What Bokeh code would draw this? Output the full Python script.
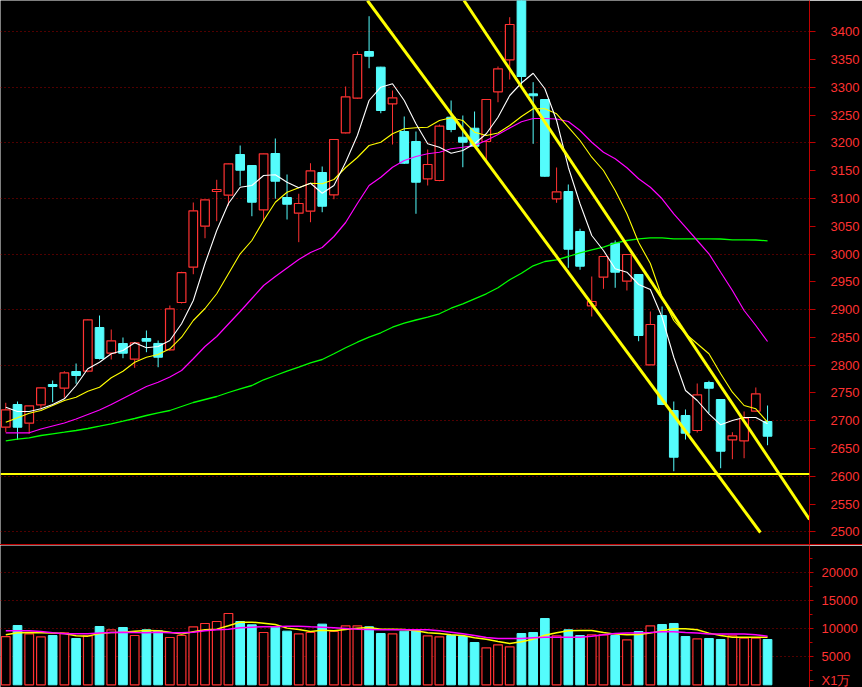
from bokeh.plotting import figure
from bokeh.models import FixedTicker, Div, Range1d, Span
from bokeh.layouts import column
from bokeh.embed import file_html
from bokeh.resources import INLINE

# ---------------- data ----------------
idx = list(range(66))

opens = [2688.2, 2729.1, 2695.4, 2728.6, 2765.1, 2758.4, 2788.5, 2789.0, 2867.7, 2821.4,
         2838.9, 2810.6, 2847.9, 2839.0, 2827.6, 2912.7, 2976.3, 3050.0, 3112.5, 3105.8,
         3179.1, 3159.3, 3079.6, 3180.9, 3101.7, 3073.4, 3077.0, 3146.7, 3106.6, 3218.2,
         3280.4, 3364.5, 3336.3, 3270.4, 3220.5, 3202.5, 3135.4, 3132.3, 3246.2, 3210.2,
         3226.4, 3202.5, 3292.0, 3349.6, 3478.0, 3288.3, 3278.1, 3099.3, 3112.5, 3040.5,
         2906.8, 2958.2, 3019.4, 2951.0, 2963.1, 2800.6, 2889.3, 2718.3, 2709.3, 2682.3,
         2768.7, 2738.1, 2665.6, 2663.8, 2717.0, 2698.5]
highs = [2732.2, 2734.5, 2727.0, 2760.0, 2772.3, 2789.0, 2802.9, 2883.0, 2889.3, 2864.1,
         2849.7, 2841.0, 2862.3, 2844.3, 2907.3, 2968.0, 3092.7, 3098.0, 3133.6, 3163.0,
         3195.3, 3160.0, 3181.0, 3207.9, 3143.1, 3108.4, 3163.4, 3157.5, 3207.0, 3301.5,
         3364.5, 3428.0, 3337.0, 3294.3, 3247.5, 3220.5, 3188.1, 3233.1, 3276.3, 3249.3,
         3256.5, 3279.0, 3337.5, 3426.2, 3482.0, 3309.3, 3279.0, 3155.7, 3125.1, 3045.4,
         2959.5, 2996.0, 3024.3, 3000.0, 2964.0, 2896.5, 2905.5, 2734.5, 2720.1, 2766.9,
         2771.8, 2739.0, 2679.2, 2716.5, 2759.7, 2727.3]
lows = [2679.2, 2665.6, 2676.4, 2719.6, 2733.2, 2741.2, 2766.4, 2787.0, 2810.1, 2810.1,
        2812.4, 2795.2, 2823.2, 2796.2, 2826.0, 2911.0, 2963.6, 3028.4, 3059.0, 3087.3,
        3122.8, 3068.0, 3059.0, 3099.4, 3062.1, 3021.3, 3057.2, 3075.2, 3098.6, 3217.0,
        3279.0, 3334.4, 3253.4, 3197.1, 3162.0, 3072.4, 3123.3, 3131.0, 3219.2, 3156.2,
        3193.0, 3165.2, 3273.2, 3314.1, 3300.3, 3198.3, 3139.0, 3092.2, 2975.2, 2971.6,
        2887.5, 2937.3, 2939.2, 2934.3, 2843.0, 2800.0, 2728.0, 2609.0, 2666.1, 2678.7,
        2713.4, 2614.4, 2630.6, 2632.4, 2716.0, 2655.8]
closes = [2719.6, 2688.2, 2726.8, 2759.2, 2761.5, 2786.2, 2781.3, 2881.6, 2811.9, 2843.8,
          2821.4, 2840.2, 2843.0, 2814.2, 2901.4, 2966.3, 3077.8, 3097.6, 3116.1, 3162.3,
          3150.8, 3093.2, 3180.4, 3131.0, 3089.6, 3090.9, 3149.8, 3086.0, 3206.1, 3283.0,
          3359.1, 3356.0, 3258.3, 3281.2, 3163.4, 3129.2, 3161.1, 3230.0, 3224.1, 3201.2,
          3194.0, 3278.1, 3333.4, 3413.1, 3319.5, 3284.8, 3140.0, 3112.0, 3008.6, 2978.0,
          2914.5, 2995.5, 2967.2, 2999.1, 2853.3, 2873.1, 2729.1, 2634.2, 2677.4, 2746.6,
          2758.4, 2645.0, 2672.8, 2704.4, 2748.4, 2672.0]

ma5 = [2724.2, 2716.5, 2716.5, 2721.4, 2729.1, 2739.4, 2763.3, 2793.4, 2805.2, 2820.4,
       2826.3, 2840.2, 2831.2, 2833.5, 2844.3, 2874.4, 2916.3, 2982.9, 3042.3, 3090.9,
       3120.2, 3123.3, 3141.3, 3142.6, 3129.2, 3119.2, 3127.4, 3109.4, 3123.3, 3165.2,
       3213.3, 3276.3, 3300.2, 3306.4, 3276.3, 3234.4, 3198.4, 3192.2, 3181.4, 3186.3,
       3198.4, 3216.4, 3246.2, 3285.3, 3307.8, 3325.4, 3297.4, 3240.3, 3156.2, 3090.4,
       3033.3, 3006.3, 2973.4, 2967.2, 2945.1, 2936.1, 2886.2, 2814.2, 2754.3, 2736.3,
       2712.4, 2692.6, 2700.3, 2705.7, 2705.7, 2694.4]
ma10 = [2697.2, 2705.2, 2713.4, 2718.3, 2727.3, 2736.3, 2742.2, 2753.0, 2760.2, 2777.2,
        2789.0, 2805.2, 2814.2, 2819.1, 2829.4, 2850.2, 2880.3, 2901.9, 2928.4, 2964.4,
        3000.4, 3024.3, 3060.3, 3093.2, 3111.2, 3119.2, 3127.4, 3126.4, 3134.1, 3155.7,
        3173.7, 3195.3, 3201.2, 3216.4, 3225.4, 3227.2, 3228.2, 3240.3, 3245.2, 3240.3,
        3219.2, 3213.3, 3217.8, 3231.3, 3247.5, 3261.4, 3261.4, 3252.4, 3228.2, 3204.3,
        3174.2, 3150.3, 3114.3, 3072.4, 3020.7, 2982.9, 2922.2, 2880.3, 2856.4, 2838.4,
        2820.4, 2784.4, 2751.2, 2727.3, 2721.4, 2697.2]
ma20 = [2678.2, 2678.2, 2678.2, 2685.0, 2690.4, 2695.8, 2703.0, 2711.1, 2719.2, 2729.1,
        2739.9, 2750.7, 2761.5, 2769.2, 2778.6, 2790.3, 2811.4, 2833.5, 2851.5, 2874.0,
        2896.5, 2919.9, 2943.3, 2959.5, 2974.8, 2990.1, 3002.7, 3011.7, 3031.5, 3056.7,
        3090.9, 3123.3, 3138.2, 3156.2, 3168.3, 3175.5, 3180.4, 3183.2, 3189.4, 3192.2,
        3195.3, 3204.3, 3215.1, 3226.8, 3238.1, 3243.9, 3243.9, 3243.0, 3238.5, 3222.3,
        3201.2, 3183.2, 3171.4, 3155.2, 3135.4, 3120.2, 3099.4, 3072.4, 3048.2, 3024.3,
        3000.4, 2967.2, 2934.3, 2898.3, 2871.3, 2842.5]
ma60 = [2663.8, 2666.6, 2669.2, 2673.3, 2676.4, 2679.2, 2682.3, 2685.9, 2690.0, 2694.4,
        2699.0, 2703.9, 2709.3, 2714.2, 2718.3, 2725.5, 2732.7, 2738.1, 2743.5, 2750.7,
        2757.4, 2763.3, 2773.6, 2781.3, 2789.0, 2796.2, 2804.2, 2810.1, 2820.4, 2831.2,
        2841.2, 2850.2, 2858.2, 2868.2, 2875.4, 2881.2, 2886.2, 2892.4, 2902.4, 2910.4,
        2919.4, 2928.4, 2939.2, 2953.6, 2965.4, 2978.8, 2986.5, 2989.6, 2995.5, 3002.2,
        3007.6, 3012.2, 3019.4, 3024.3, 3027.4, 3029.2, 3029.2, 3027.4, 3027.4, 3027.4,
        3027.4, 3027.0, 3025.6, 3025.6, 3025.2, 3023.8]

volumes = [8620, 10590, 9110, 8570, 8800, 9290, 8270, 8750, 10410, 9820,
           10230, 8800, 9820, 9640, 8450, 8800, 10360, 10950, 11300, 12730,
           11300, 10710, 9340, 10290, 9580, 9110, 9340, 10830, 9520, 10540,
           10540, 10360, 9160, 9110, 9580, 9700, 8750, 8570, 8800, 8620,
           7550, 6610, 7140, 6790, 9160, 9340, 11840, 8750, 9820, 8800,
           8930, 8930, 8800, 8040, 9520, 10540, 10770, 10950, 8620, 8210,
           8270, 8090, 8750, 8330, 8330, 8090]
vol_ma5 = [8930, 9290, 9340, 9290, 9230, 9160, 8750, 8690, 9160, 9340,
           9400, 9580, 9700, 9640, 9400, 9050, 9460, 9820, 9940, 10540,
           11190, 11190, 11010, 10770, 10120, 9880, 9520, 9760, 9640, 9880,
           10120, 10230, 9940, 9940, 9880, 9640, 9290, 9160, 8930, 8800,
           8390, 8150, 7740, 7380, 7670, 8150, 8860, 9290, 9640, 9700,
           9700, 9340, 9050, 8930, 8990, 9230, 9640, 10000, 10000, 9820,
           9230, 8800, 8510, 8510, 8510, 8510]
vol_ma10 = [9640, 9640, 9640, 9520, 9290, 9110, 9110, 9110, 9230, 9340,
            9400, 9340, 9290, 9400, 9290, 9290, 9400, 9640, 9820, 9940,
            10170, 10290, 10360, 10360, 10470, 10470, 10360, 10290, 10170, 10050,
            9940, 9880, 9820, 9820, 9820, 9820, 9820, 9640, 9400, 9110,
            8800, 8450, 8270, 8270, 8270, 8390, 8510, 8510, 8510, 8510,
            8690, 8930, 9160, 9230, 9230, 9340, 9460, 9460, 9340, 9230,
            9050, 9050, 9050, 9050, 8930, 8690]

# drawn trend lines (candle index, price) and support level
trend_a_x = [30.86, 64.39]
trend_a_y = [3456.3, 2498.7]
trend_b_x = [39.10, 68.58]
trend_b_y = [3456.3, 2522.1]
support_level = 2604

price_ticks = list(range(2500, 3401, 50))
price_grid = list(range(2500, 3401, 100))
vol_ticks = [5000, 10000, 15000, 20000]
vol_minor = [2500, 7500, 12500, 17500, 22500]
unit_tick = 700          # where the unit note "X1万" sits on the volume axis
unit_text = "X1万"

# ---------------- styles ----------------
RED = "#ff3232"
CYAN = "#54fcfc"
AXIS_RED = "#c00000"
GRID_RED = "#a00000"
BODY_W = 0.74

up_i = [i for i in idx if closes[i] >= opens[i]]
dn_i = [i for i in idx if closes[i] < opens[i]]

common = dict(output_backend="svg", toolbar_location=None,
              x_axis_location=None, y_axis_location="right",
              min_border_left=0, min_border_right=53,
              min_border_top=0, min_border_bottom=0,
              background_fill_color="black", border_fill_color="black",
              outline_line_color=None)

p = figure(width=862, height=544, x_range=Range1d(-0.45, 68.58),
           y_range=Range1d(2477.1, 3456.3), **common)

# down candles (filled cyan)
p.segment(x0=dn_i, y0=[highs[i] for i in dn_i], x1=dn_i, y1=[lows[i] for i in dn_i],
          line_color=CYAN, line_width=1)
p.vbar(x=dn_i, top=[opens[i] for i in dn_i], bottom=[closes[i] for i in dn_i],
       width=BODY_W, fill_color=CYAN, line_color=CYAN, line_width=1)
# up candles (hollow red)
p.segment(x0=up_i, y0=[highs[i] for i in up_i], x1=up_i, y1=[closes[i] for i in up_i],
          line_color=RED, line_width=1)
p.segment(x0=up_i, y0=[opens[i] for i in up_i], x1=up_i, y1=[lows[i] for i in up_i],
          line_color=RED, line_width=1)
p.vbar(x=up_i, top=[closes[i] for i in up_i], bottom=[opens[i] for i in up_i],
       width=BODY_W, fill_color="black", line_color=RED, line_width=1.2)

# moving averages
p.line(idx, ma60, line_color="#00ff00", line_width=1.3)
p.line(idx, ma20, line_color="#ff00ff", line_width=1.2)
p.line(idx, ma10, line_color="#ffff00", line_width=1.1)
p.line(idx, ma5, line_color="#ffffff", line_width=1.1)

# drawn lines
p.add_layout(Span(location=support_level, dimension="width",
                  line_color="#ffff00", line_width=2))
p.line(trend_a_x, trend_a_y, line_color="#ffff00", line_width=3)
p.line(trend_b_x, trend_b_y, line_color="#ffff00", line_width=3)

p.xgrid.visible = False
p.ygrid.ticker = FixedTicker(ticks=price_grid)
p.ygrid.grid_line_color = GRID_RED
p.ygrid.grid_line_dash = "1 3"
p.ygrid.grid_line_width = 1

ax = p.yaxis[0]
ax.ticker = FixedTicker(ticks=price_ticks)
ax.axis_line_color = AXIS_RED
ax.major_tick_line_color = AXIS_RED
ax.major_tick_out = 6
ax.major_tick_in = 0
ax.minor_tick_line_color = None
ax.major_label_text_color = RED
ax.major_label_text_font = "Liberation Sans"
ax.major_label_text_font_size = "13px"
ax.major_label_standoff = 15

sep = Div(text="", width=862, height=1, margin=(0, 0, 0, 0),
          styles={"background-color": AXIS_RED, "overflow": "hidden"})

v = figure(width=862, height=142, x_range=p.x_range,
           y_range=Range1d(-482, 24875), **common)
v.vbar(x=dn_i, top=[volumes[i] for i in dn_i], bottom=0, width=BODY_W,
       fill_color=CYAN, line_color=CYAN, line_width=1)
v.vbar(x=up_i, top=[volumes[i] for i in up_i], bottom=0, width=BODY_W,
       fill_color="black", line_color=RED, line_width=1.2)
v.line(idx, vol_ma5, line_color="#ffff00", line_width=1.5)
v.line(idx, vol_ma10, line_color="#ff00ff", line_width=1.5)

v.xgrid.visible = False
v.ygrid.ticker = FixedTicker(ticks=vol_ticks)
v.ygrid.grid_line_color = GRID_RED
v.ygrid.grid_line_dash = "1 3"
vax = v.yaxis[0]
vax.ticker = FixedTicker(ticks=vol_ticks + [unit_tick], minor_ticks=vol_minor)
vax.major_label_overrides = {unit_tick: unit_text}
vax.axis_line_color = AXIS_RED
vax.major_tick_line_color = AXIS_RED
vax.minor_tick_line_color = AXIS_RED
vax.major_tick_out = 4
vax.major_tick_in = 0
vax.minor_tick_out = 3
vax.minor_tick_in = 0
vax.major_label_text_color = RED
vax.major_label_text_font = "Liberation Sans"
vax.major_label_text_font_size = "13px"
vax.major_label_standoff = 8

layout = column(p, sep, v, spacing=0)
open("out.html", "w").write(file_html(layout, INLINE))
